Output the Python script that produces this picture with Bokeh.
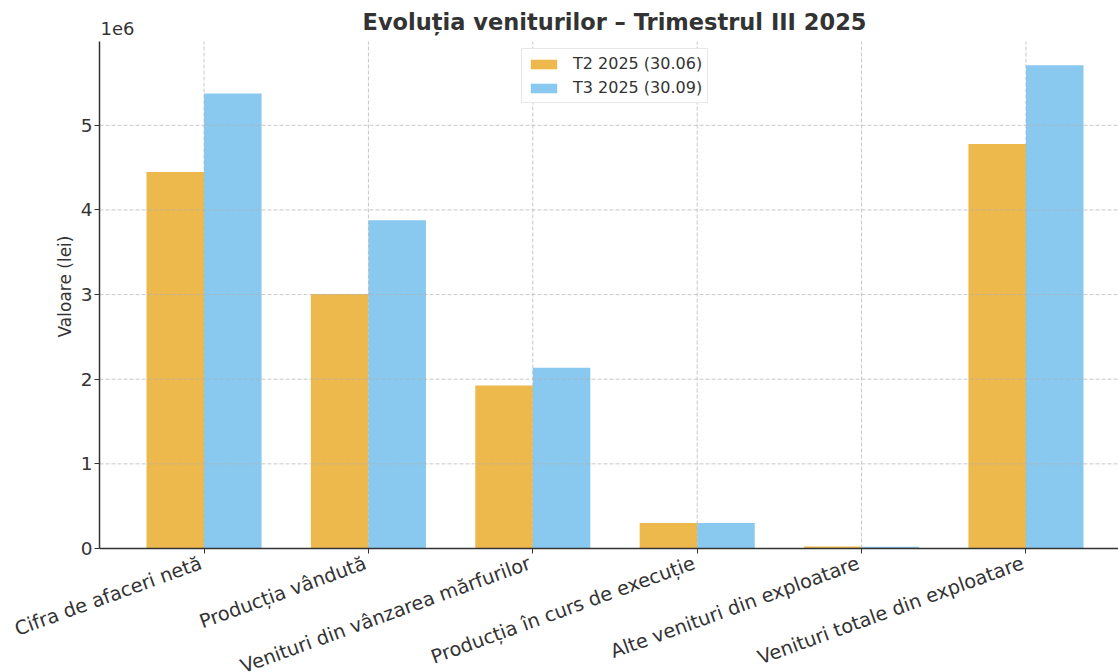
import math
from bokeh.plotting import figure
from bokeh.core.properties import value
from bokeh.models import (Range1d, FixedTicker, CustomJSTickFormatter, CustomLabelingPolicy,
                          ColumnDataSource, Label, LabelSet, Legend, LegendItem)
from bokeh.embed import file_html
from bokeh.resources import INLINE

categories = [
    "Cifra de afaceri netă",
    "Producția vândută",
    "Venituri din vânzarea mărfurilor",
    "Producția în curs de execuție",
    "Alte venituri din exploatare",
    "Venituri totale din exploatare",
]
t2_values = [4448000, 3006000, 1927000, 300000, 25000, 4779000]
t3_values = [5375000, 3877000, 2136000, 300000, 20000, 5709000]
series_names = ["T2 2025 (30.06)", "T3 2025 (30.09)"]
title_text = "Evoluția veniturilor – Trimestrul III 2025"
y_label = "Valoare (lei)"
y_ticks = [0, 1000000, 2000000, 3000000, 4000000, 5000000]
y_max = 5990000
x_min, x_max = -0.636, 5.563

FONT = "DejaVu Sans"
TXT = "#333333"
C_T2 = "#EDB94C"
C_T3 = "#89C9EF"
GRID = "#b0b0b0"
bar_w = 0.35

W, H = 1118, 672
AX_LEFT_PX = 99     # position of the value axis (page px)
AX_TOP_PX = 41      # top of the value axis (page px)
AX_ZERO_PX = 548    # position of value 0 (page px)

# ranges stretched so that the frame fills the whole canvas
x_per_px = (x_max - x_min) / (W - AX_LEFT_PX)
x_start = x_min - AX_LEFT_PX * x_per_px
y_per_px = y_max / (AX_ZERO_PX - AX_TOP_PX)
y_start = -(H - AX_ZERO_PX) * y_per_px
y_end = AX_ZERO_PX * y_per_px

idx = list(range(len(categories)))
x_t2 = [i - bar_w / 2 for i in idx]
x_t3 = [i + bar_w / 2 for i in idx]

p = figure(width=W, height=H, output_backend="svg", toolbar_location=None,
           x_range=Range1d(x_start, x_max), y_range=Range1d(y_start, y_end),
           min_border_left=0, min_border_right=0, min_border_top=0,
           min_border_bottom=0)
p.outline_line_color = None
p.background_fill_color = "white"
p.xgrid.visible = False
p.ygrid.visible = False

r2 = p.vbar(x=x_t2, top=t2_values, width=bar_w, fill_color=C_T2, line_color=None)
r3 = p.vbar(x=x_t3, top=t3_values, width=bar_w, fill_color=C_T3, line_color=None)

# grid lines (drawn over the bars, as in the reference)
p.segment(x0=[x_min] * len(y_ticks), x1=[x_max] * len(y_ticks), y0=y_ticks, y1=y_ticks,
          line_color=GRID, line_alpha=0.7, line_dash="4 2", line_width=1)
p.segment(x0=idx, x1=idx, y0=[0] * len(idx), y1=[y_max] * len(idx),
          line_color=GRID, line_alpha=0.7, line_dash="4 2", line_width=1)

# Category axis: line and ticks from the axis, rotated names from a LabelSet
xa = p.xaxis[0]
xa.fixed_location = 0
xa.bounds = (x_min, x_max)
xa.ticker = FixedTicker(ticks=idx)
xa.major_label_policy = CustomLabelingPolicy(
    code="for (const i of indices) indices.unset(i); return indices;")
xa.axis_line_color = TXT
xa.axis_line_width = 1.5
xa.major_tick_line_color = TXT
xa.major_tick_out = 5
xa.major_tick_in = 0
xa.minor_tick_line_color = None

cat_src = ColumnDataSource(dict(x=idx, y=[0] * len(idx), text=categories))
p.add_layout(LabelSet(x="x", y="y", text="text", source=cat_src,
                      angle=math.radians(20), x_offset=-7, y_offset=-3,
                      text_align="right", text_baseline="top",
                      text_font=value(FONT), text_font_size=value("19.3px"),
                      text_color=TXT))

ya = p.yaxis[0]
ya.fixed_location = x_min
ya.bounds = (0, y_max)
ya.ticker = FixedTicker(ticks=y_ticks)
ya.formatter = CustomJSTickFormatter(code="return (tick/1e6).toFixed(0);")
ya.major_label_text_font = FONT
ya.major_label_text_font_size = "18.5px"
ya.major_label_text_color = TXT
ya.major_label_standoff = 2
ya.axis_line_color = TXT
ya.axis_line_width = 1.5
ya.major_tick_line_color = TXT
ya.major_tick_out = 5
ya.major_tick_in = 0
ya.minor_tick_line_color = None

# Value-axis title, chart title and offset text (inside the full-size frame)
p.add_layout(Label(x=64, y=H - 286, x_units="screen", y_units="screen", text=y_label,
                   angle=math.pi / 2, text_font=FONT, text_font_size="17px",
                   text_color=TXT, text_align="center", text_baseline="middle"))
p.add_layout(Label(x=614, y=H - 21, x_units="screen", y_units="screen", text=title_text,
                   text_font=FONT, text_font_size="22.5px", text_font_style="bold",
                   text_color=TXT, text_align="center", text_baseline="alphabetic"))
p.add_layout(Label(x=AX_LEFT_PX + 1, y=H - 28, x_units="screen", y_units="screen", text="1e6",
                   text_font=FONT, text_font_size="18px", text_color=TXT,
                   text_align="left", text_baseline="alphabetic"))

legend = Legend(items=[LegendItem(label=series_names[0], renderers=[r2]),
                       LegendItem(label=series_names[1], renderers=[r3])],
                location=(AX_LEFT_PX + 422, H - 103))
legend.label_text_font = FONT
legend.label_text_font_size = "16px"
legend.label_text_color = TXT
legend.glyph_width = 33
legend.glyph_height = 12
legend.label_height = 18
legend.label_standoff = 13
legend.spacing = 5
legend.padding = 5
legend.margin = 0
legend.border_line_color = "#d0d0d0"
legend.border_line_width = 1
legend.background_fill_alpha = 0.9
p.add_layout(legend)

open("out.html", "w").write(file_html(p, INLINE))
